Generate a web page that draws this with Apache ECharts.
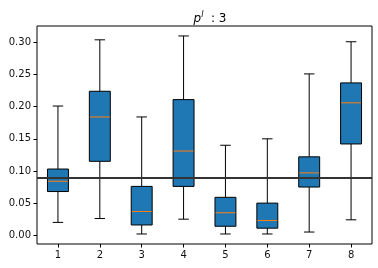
<!DOCTYPE html>
<html><head><meta charset="utf-8">
<script src="https://cdn.jsdelivr.net/npm/echarts@6/dist/echarts.min.js"></script>
<style>html,body{margin:0;padding:0;background:#fff}#c{width:378px;height:268px}</style>
</head><body><div id="c"></div>
<script>
var categories = ['1','2','3','4','5','6','7','8'];
var whiskerLow  = [0.020, 0.026, 0.002, 0.025, 0.002, 0.002, 0.005, 0.024];
var q1          = [0.068, 0.115, 0.016, 0.076, 0.014, 0.011, 0.075, 0.142];
var medians     = [0.084, 0.184, 0.037, 0.131, 0.035, 0.023, 0.097, 0.206];
var q3          = [0.103, 0.224, 0.076, 0.211, 0.059, 0.050, 0.122, 0.237];
var whiskerHigh = [0.201, 0.304, 0.184, 0.310, 0.140, 0.150, 0.251, 0.301];
var refLine = 0.085;
var yTicks = [0, 0.05, 0.10, 0.15, 0.20, 0.25, 0.30];

var data = categories.map(function(c, i){
  return [i, whiskerLow[i], q1[i], medians[i], q3[i], whiskerHigh[i]];
});

function renderItem(params, api){
  var x = api.value(0);
  var bw = api.size([1, 0])[0];
  var boxW = bw * 0.5, capW = bw * 0.25;
  var pLow = api.coord([x, api.value(1)]);
  var pQ1 = api.coord([x, api.value(2)]);
  var pMed = api.coord([x, api.value(3)]);
  var pQ3 = api.coord([x, api.value(4)]);
  var pHigh = api.coord([x, api.value(5)]);
  var cx = pLow[0];
  var ls = {stroke:'#000', lineWidth:1};
  return {type:'group', children:[
    {type:'line', shape:{x1:cx,y1:pLow[1],x2:cx,y2:pQ1[1]}, style:ls},
    {type:'line', shape:{x1:cx,y1:pQ3[1],x2:cx,y2:pHigh[1]}, style:ls},
    {type:'line', shape:{x1:cx-capW/2,y1:pLow[1],x2:cx+capW/2,y2:pLow[1]}, style:ls},
    {type:'line', shape:{x1:cx-capW/2,y1:pHigh[1],x2:cx+capW/2,y2:pHigh[1]}, style:ls},
    {type:'rect', shape:{x:cx-boxW/2,y:pQ3[1],width:boxW,height:pQ1[1]-pQ3[1]}, style:{fill:'#1f77b4',stroke:'#000',lineWidth:1}},
    {type:'line', shape:{x1:cx-boxW/2+0.5,y1:pMed[1],x2:cx+boxW/2-0.5,y2:pMed[1]}, style:{stroke:'#ff7f0e',lineWidth:1}}
  ]};
}

var chart = echarts.init(document.getElementById('c'), null, {renderer:'canvas'});
chart.setOption({
  animation:false,
  title:{
    text:'{i|p}{s|l}{n|  : 3}',
    left:205, top:6, textAlign:'center',
    textStyle:{fontWeight:'normal', rich:{
      i:{fontFamily:'DejaVu Sans', fontStyle:'italic', fontWeight:'normal', fontSize:12, color:'#000'},
      s:{fontFamily:'DejaVu Sans', fontStyle:'italic', fontWeight:'normal', fontSize:8, color:'#000', verticalAlign:'bottom', padding:[0,0,8,0]},
      n:{fontFamily:'DejaVu Sans', fontWeight:'normal', fontSize:12, color:'#000'}
    }}
  },
  grid:{left:37, right:6, top:26, bottom:24, show:true, borderColor:'#000', borderWidth:1, backgroundColor:'#fff'},
  xAxis:{type:'category', data:categories, boundaryGap:true,
    axisLine:{show:false, onZero:false},
    axisTick:{show:true, alignWithLabel:true, length:3.5, lineStyle:{color:'#000'}},
    axisLabel:{fontFamily:'DejaVu Sans', fontSize:10, color:'#111', margin:6},
    splitLine:{show:false}},
  yAxis:{type:'value', min:-0.0136, max:0.3255,
    axisLine:{show:false},
    axisTick:{show:true, length:3.5, customValues:yTicks, lineStyle:{color:'#000'}},
    axisLabel:{fontFamily:'DejaVu Sans', fontSize:10, color:'#111', margin:6, customValues:yTicks,
      formatter:function(v){return v.toFixed(2);}},
    splitLine:{show:false}},
  series:[{
    type:'custom', renderItem:renderItem, data:data,
    encode:{x:0, y:[1,2,3,4,5]}
  },{
    type:'line', data:[], silent:true,
    markLine:{silent:true, symbol:'none', label:{show:false},
      lineStyle:{color:'#333', width:2, type:'solid'},
      data:[{yAxis:refLine}]}
  }]
});
</script></body></html>
